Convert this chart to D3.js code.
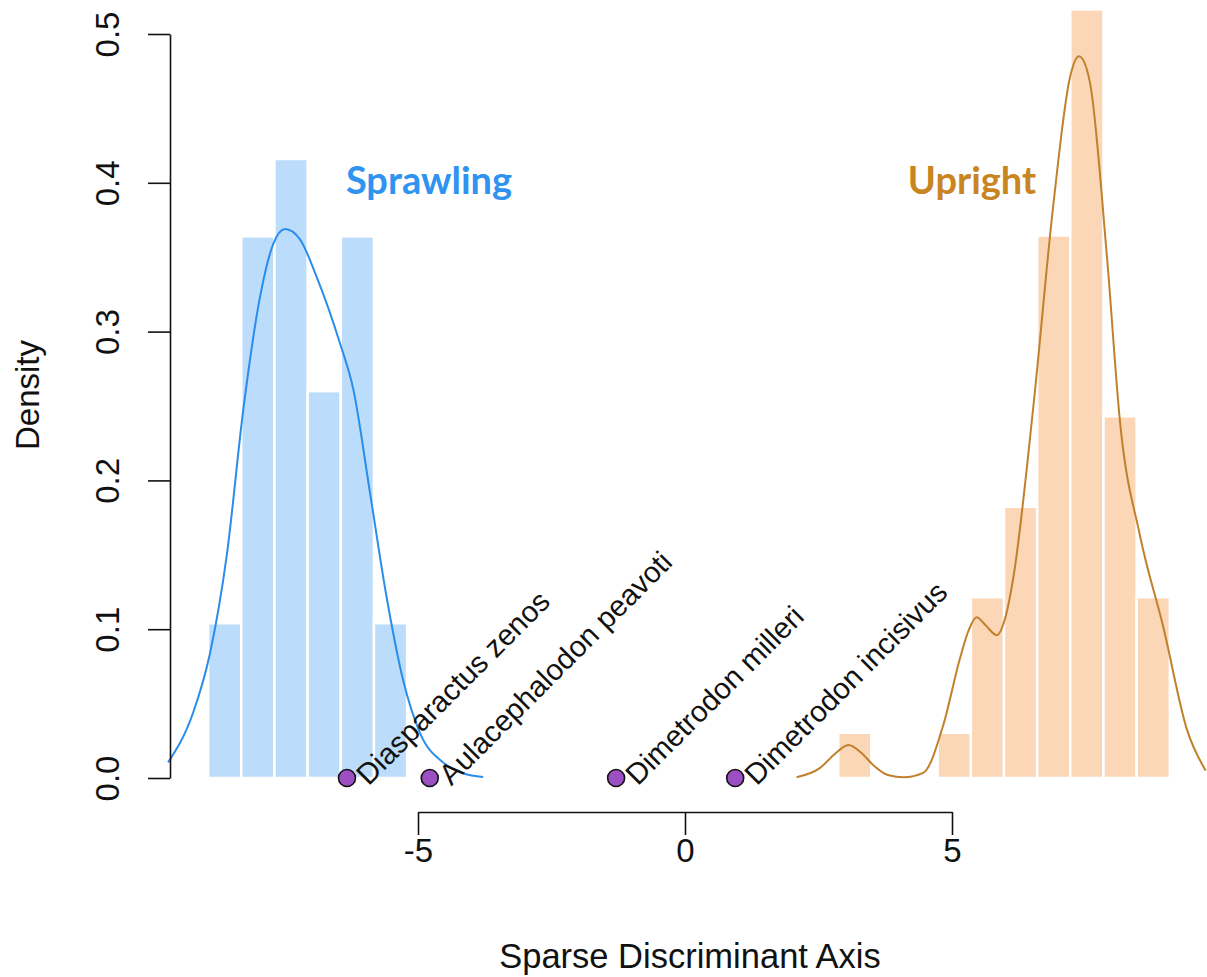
<!DOCTYPE html>
<html>
<head>
<meta charset="utf-8">
<script src="https://cdn.jsdelivr.net/npm/d3@7"></script>
<style>
  html, body { margin: 0; padding: 0; background: #fff; }
  svg { display: block; }
</style>
</head>
<body>
<svg id="chart" width="1207" height="977"></svg>
<script>
// Histogram bins: left edges, common bin width and densities per group
const binWidth = 0.621;
const sprawlingBinStarts = [-8.93, -8.309, -7.688, -7.067, -6.446, -5.825];
const sprawlingDensity   = [0.104, 0.364, 0.416, 0.260, 0.364, 0.104];
const uprightBinStarts   = [2.869, 3.490, 4.111, 4.732, 5.353, 5.974, 6.595, 7.216, 7.837, 8.458];
const uprightDensity     = [0.0304, 0, 0, 0.0304, 0.1215, 0.1823, 0.3646, 0.5165, 0.2431, 0.1215];

// Kernel density estimates (x, density)
const sprawlingKde = [
  [-9.68, 0.0105], [-9.21, 0.044], [-8.90, 0.083], [-8.58, 0.150], [-8.27, 0.248],
  [-7.96, 0.323], [-7.71, 0.359], [-7.49, 0.369], [-7.21, 0.362], [-6.90, 0.337],
  [-6.46, 0.292], [-6.21, 0.261], [-5.90, 0.192], [-5.59, 0.122], [-5.28, 0.066],
  [-4.96, 0.030], [-4.53, 0.0105], [-4.15, 0.003], [-3.78, 0.0007]
];
const uprightKde = [
  [2.09, 0.0005], [2.53, 0.0068], [2.80, 0.016], [3.06, 0.0222], [3.30, 0.017],
  [3.53, 0.0085], [3.80, 0.002], [4.10, 0.0005], [4.46, 0.0034], [4.84, 0.036],
  [5.15, 0.0805], [5.32, 0.100], [5.46, 0.108], [5.62, 0.103], [5.84, 0.096],
  [6.00, 0.108], [6.15, 0.135], [6.52, 0.2485], [6.90, 0.386], [7.21, 0.471],
  [7.38, 0.485], [7.58, 0.468], [7.90, 0.351], [8.15, 0.238], [8.52, 0.163],
  [8.96, 0.101], [9.40, 0.0325], [9.75, 0.005]
];

// Projected specimens of uncertain posture
const specimenNames = ["Diasparactus zenos", "Aulacephalodon peavoti", "Dimetrodon milleri", "Dimetrodon incisivus"];
const specimenScores = [-6.33, -4.78, -1.29, 0.94];

const xTicks = [-5, 0, 5];
const yTicks = [0, 0.1, 0.2, 0.3, 0.4, 0.5];

const svg = d3.select("#chart");
const x = d3.scaleLinear().domain([-5, 5]).range([418, 952]);
const y = d3.scaleLinear().domain([0, 0.5]).range([778, 34]);

const font = "'Liberation Sans', Arial, Helvetica, sans-serif";

// Histogram bars
function drawBars(starts, dens, fill) {
  svg.append("g").selectAll("rect")
    .data(starts.map((s, i) => ({ s, d: dens[i] })).filter(b => b.d > 0))
    .join("rect")
    .attr("x", b => x(b.s))
    .attr("width", b => x(b.s + binWidth) - x(b.s))
    .attr("y", b => y(b.d))
    .attr("height", b => y(0) - y(b.d))
    .attr("fill", fill)
    .attr("stroke", "#ffffff")
    .attr("stroke-width", 2.5);
}
drawBars(sprawlingBinStarts, sprawlingDensity, "#bbdcfa");
drawBars(uprightBinStarts, uprightDensity, "#fbd6b7");

// Density curves
const line = d3.line().x(d => x(d[0])).y(d => y(d[1])).curve(d3.curveMonotoneX);
svg.append("path").datum(sprawlingKde).attr("d", line)
  .attr("fill", "none").attr("stroke", "#2a8cec").attr("stroke-width", 2);
svg.append("path").datum(uprightKde).attr("d", line)
  .attr("fill", "none").attr("stroke", "#c0802c").attr("stroke-width", 2);

// Group labels
svg.append("text").attr("x", 429).attr("y", 194).attr("text-anchor", "middle")
  .attr("font-family", "Lato, 'Open Sans', sans-serif").attr("font-weight", "bold")
  .attr("font-size", 38).attr("fill", "#2f93ef").text("Sprawling");
svg.append("text").attr("x", 972).attr("y", 194).attr("text-anchor", "middle")
  .attr("font-family", "Lato, 'Open Sans', sans-serif").attr("font-weight", "bold")
  .attr("font-size", 38).attr("fill", "#c9851f").text("Upright");

// Specimens
const spec = svg.append("g");
spec.selectAll("circle").data(specimenScores).join("circle")
  .attr("cx", d => x(d)).attr("cy", y(0)).attr("r", 8.5)
  .attr("fill", "#9c4fc3").attr("stroke", "#111").attr("stroke-width", 1.6);
spec.selectAll("text").data(specimenNames).join("text")
  .attr("transform", (d, i) => `translate(${x(specimenScores[i]) + 16},${y(0) + 3}) rotate(-45)`)
  .attr("dominant-baseline", "middle")
  .attr("font-family", font).attr("font-size", 29.5).attr("fill", "#111")
  .text(d => d);

// X axis
const xAxis = svg.append("g").attr("transform", "translate(0,812)")
  .call(d3.axisBottom(x).tickValues(xTicks).tickSize(23).tickSizeOuter(0).tickFormat(d => String(d)));
xAxis.select(".domain").attr("stroke", "#111").attr("stroke-width", 1.6);
xAxis.selectAll(".tick line").attr("stroke", "#111").attr("stroke-width", 1.6);
xAxis.selectAll(".tick text").attr("font-family", font).attr("font-size", 33)
  .attr("fill", "#111").attr("dy", null).attr("y", 50);

// Y axis
const yAxis = svg.append("g").attr("transform", "translate(170,0)")
  .call(d3.axisLeft(y).tickValues(yTicks).tickSize(22).tickSizeOuter(0).tickFormat(d3.format(".1f")));
yAxis.select(".domain").attr("stroke", "#111").attr("stroke-width", 1.6);
yAxis.selectAll(".tick line").attr("stroke", "#111").attr("stroke-width", 1.6);
yAxis.selectAll(".tick text").attr("font-family", font).attr("font-size", 33)
  .attr("fill", "#111").attr("x", null).attr("dy", null)
  .attr("text-anchor", "middle")
  .attr("transform", "translate(-51,0) rotate(-90)");

// Axis titles
svg.append("text").attr("x", 690).attr("y", 968).attr("text-anchor", "middle")
  .attr("font-family", font).attr("font-size", 34.5).attr("fill", "#111")
  .text("Sparse Discriminant Axis");
svg.append("text").attr("transform", "translate(39,395) rotate(-90)").attr("text-anchor", "middle")
  .attr("font-family", font).attr("font-size", 33).attr("fill", "#111")
  .text("Density");
</script>
</body>
</html>
